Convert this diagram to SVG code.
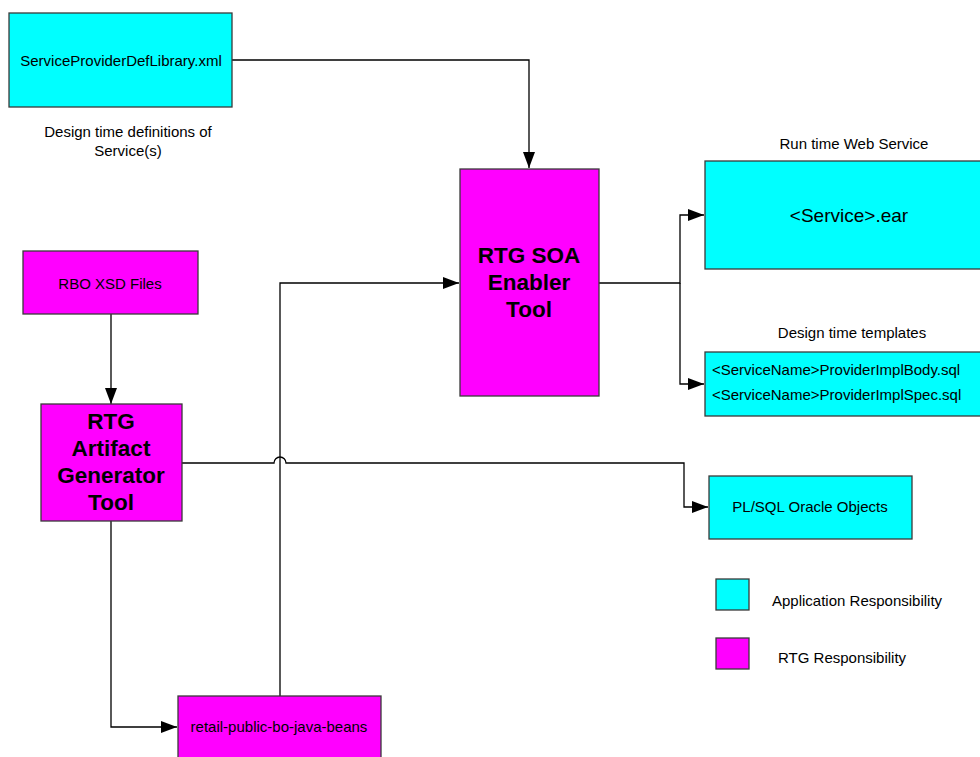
<svg xmlns="http://www.w3.org/2000/svg" width="980" height="757" viewBox="0 0 980 757">
<style>
text{font-family:"Liberation Sans",Arial,sans-serif;fill:#000;}
.c{fill:#00ffff;stroke:#3a3a3a;stroke-width:1.3;}
.m{fill:#ff00ff;stroke:#3a3a3a;stroke-width:1.3;}
.t{font-size:15px;}
.b{font-size:22.5px;font-weight:bold;text-anchor:middle;}
.mid{text-anchor:middle;}
.ln{fill:none;stroke:#000;stroke-width:1.3;}
</style>
<defs>
<marker id="ahv" markerWidth="16" markerHeight="12" refX="16" refY="6" orient="auto" markerUnits="userSpaceOnUse" viewBox="0 0 16 12">
<path d="M0,0 L16,6 L0,12 z" fill="#000"/>
</marker>
</defs>
<rect width="980" height="757" fill="#fff"/>
<g id="connectors">
<path class="ln" d="M232,60 H529 V168" marker-end="url(#ahv)"/>
<path class="ln" d="M599,283 H680 V215 H704" marker-end="url(#ahv)"/>
<path class="ln" d="M680,283 V384 H704" marker-end="url(#ahv)"/>
<path class="ln" d="M111,314 V404" marker-end="url(#ahv)"/>
<path class="ln" d="M182,463 H274 A6,6 0 0 1 286,463 H684 V507 H708" marker-end="url(#ahv)"/>
<path class="ln" d="M111,521 V727 H177" marker-end="url(#ahv)"/>
<path class="ln" d="M280,696 V283 H459" marker-end="url(#ahv)"/>
</g>
<g id="spdl">
<rect class="c" x="9" y="13" width="223" height="94"/>
<text class="t mid" x="121" y="66">ServiceProviderDefLibrary.xml</text>
</g>
<g id="spdl-label">
<text class="t mid" x="128" y="137">Design time definitions of</text>
<text class="t mid" x="128" y="156">Service(s)</text>
</g>
<g id="soa">
<rect class="m" x="460" y="169" width="139" height="227"/>
<text class="b" x="529" y="263">RTG SOA</text>
<text class="b" x="529" y="290">Enabler</text>
<text class="b" x="529" y="317">Tool</text>
</g>
<g id="ear">
<text class="t mid" x="854" y="149">Run time Web Service</text>
<rect class="c" x="705" y="161" width="280" height="108"/>
<text class="mid" x="849" y="222" font-size="19">&lt;Service&gt;.ear</text>
</g>
<g id="templates">
<text class="t mid" x="852" y="338">Design time templates</text>
<rect class="c" x="705" y="352" width="280" height="64"/>
<text class="t" x="712" y="375">&lt;ServiceName&gt;ProviderImplBody.sql</text>
<text class="t" x="712" y="400">&lt;ServiceName&gt;ProviderImplSpec.sql</text>
</g>
<g id="rbo">
<rect class="m" x="23" y="251" width="175" height="63"/>
<text class="t mid" x="110" y="289">RBO XSD Files</text>
</g>
<g id="artifact">
<rect class="m" x="41" y="404" width="141" height="117"/>
<text class="b" x="111" y="429">RTG</text>
<text class="b" x="111" y="456">Artifact</text>
<text class="b" x="111" y="483">Generator</text>
<text class="b" x="111" y="510">Tool</text>
</g>
<g id="plsql">
<rect class="c" x="709" y="476" width="203" height="63"/>
<text class="t mid" x="810" y="512">PL/SQL Oracle Objects</text>
</g>
<g id="retail">
<rect class="m" x="178" y="696" width="203" height="66"/>
<text class="t mid" x="279" y="732">retail-public-bo-java-beans</text>
</g>
<g id="legend">
<rect class="c" x="716" y="579" width="33" height="31"/>
<text class="t" x="772" y="606">Application Responsibility</text>
<rect class="m" x="716" y="638" width="33" height="31"/>
<text class="t" x="778" y="663">RTG Responsibility</text>
</g>
</svg>
